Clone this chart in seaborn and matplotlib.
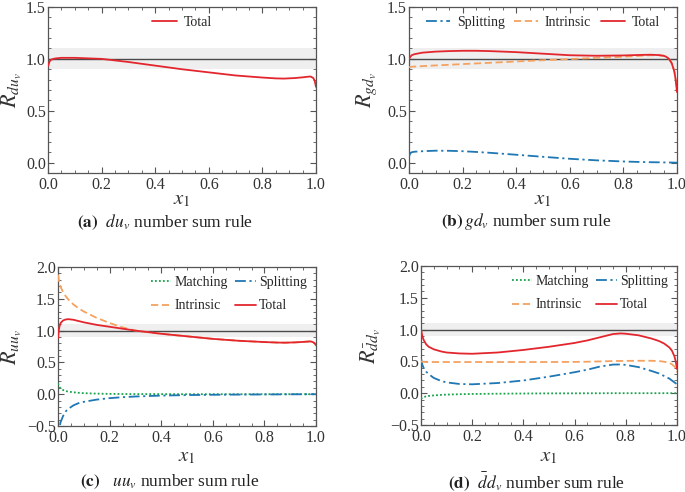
import numpy as np
import pandas as pd
import matplotlib
matplotlib.use("Agg")
import matplotlib.pyplot as plt
from matplotlib.ticker import MultipleLocator
import seaborn as sns

sns.set_theme(style="white")
plt.rcParams['font.family'] = ['Liberation Serif', 'DejaVu Serif']
plt.rcParams['mathtext.fontset'] = 'stix'

RED = "#e3262e"
ORANGE = "#f4a261"
BLUE = "#1f77b4"
GREEN = "#16a34a"

# ---------------- panel (a): du_v ----------------
a_x = [0.0, 0.005, 0.01, 0.02, 0.03, 0.05, 0.1, 0.15, 0.2, 0.3, 0.4, 0.5, 0.6, 0.7, 0.8, 0.85, 0.88, 0.92, 0.95, 0.97, 0.98, 0.99, 0.995, 1.0]
a_total = [0.93, 0.97, 0.99, 1.0, 1.005, 1.01, 1.01, 1.005, 1.0, 0.97, 0.935, 0.9, 0.87, 0.84, 0.82, 0.812, 0.81, 0.815, 0.822, 0.828, 0.83, 0.815, 0.79, 0.73]

# ---------------- panel (b): gd_v ----------------
b_x = [0.0, 0.005, 0.01, 0.02, 0.05, 0.1, 0.15, 0.2, 0.25, 0.3, 0.4, 0.5, 0.6, 0.7, 0.8, 0.85, 0.9, 0.93, 0.95, 0.96, 0.97, 0.98, 0.99, 0.995, 1.0]
b_total = [1.0, 1.02, 1.035, 1.045, 1.06, 1.07, 1.075, 1.078, 1.078, 1.075, 1.065, 1.05, 1.035, 1.03, 1.033, 1.037, 1.04, 1.037, 1.03, 1.02, 1.0, 0.96, 0.88, 0.8, 0.68]
b_intrinsic = [0.92, 0.922, 0.924, 0.926, 0.93, 0.937, 0.943, 0.95, 0.956, 0.962, 0.975, 0.987, 0.998, 1.01, 1.02, 1.028, 1.035, 1.035, 1.03, 1.02, 1.0, 0.96, 0.88, 0.8, 0.68]
b_splitting = [0.06, 0.09, 0.1, 0.105, 0.11, 0.115, 0.114, 0.11, 0.103, 0.095, 0.076, 0.056, 0.037, 0.022, 0.011, 0.007, 0.004, 0.003, 0.002, 0.002, 0.001, 0.001, 0.0, 0.0, 0.0]

# ---------------- panel (c): uu_v ----------------
c_x = [0.0, 0.003, 0.006, 0.01, 0.02, 0.03, 0.04, 0.06, 0.08, 0.1, 0.15, 0.2, 0.25, 0.3, 0.4, 0.5, 0.6, 0.7, 0.8, 0.85, 0.88, 0.92, 0.95, 0.97, 0.98, 0.99, 0.995, 1.0]
c_total = [0.88, 1.0, 1.07, 1.12, 1.16, 1.175, 1.18, 1.17, 1.15, 1.13, 1.09, 1.06, 1.03, 1.0, 0.95, 0.91, 0.87, 0.84, 0.82, 0.812, 0.81, 0.815, 0.822, 0.828, 0.83, 0.815, 0.8, 0.77]
c_intrinsic = [1.88, 1.8, 1.74, 1.69, 1.6, 1.54, 1.49, 1.41, 1.35, 1.3, 1.2, 1.12, 1.05, 1.0, 0.95, 0.91, 0.87, 0.84, 0.82, 0.812, 0.81, 0.815, 0.822, 0.828, 0.83, 0.815, 0.8, 0.77]
c_matching = [0.17, 0.13, 0.11, 0.09, 0.065, 0.05, 0.04, 0.03, 0.022, 0.016, 0.009, 0.005, 0.003, 0.002, 0.001, 0.0, 0.0, 0.0, 0.0, 0.0, 0.0, 0.0, 0.0, 0.0, 0.0, 0.0, 0.0, 0.0]
c_splitting = [-0.8, -0.62, -0.52, -0.44, -0.34, -0.27, -0.23, -0.175, -0.14, -0.12, -0.085, -0.062, -0.047, -0.036, -0.022, -0.014, -0.009, -0.006, -0.004, -0.003, -0.002, -0.001, -0.001, 0.0, 0.0, 0.0, 0.0, 0.0]

# ---------------- panel (d): dbar d_v ----------------
d_x = [0.0, 0.005, 0.01, 0.02, 0.03, 0.05, 0.08, 0.1, 0.15, 0.2, 0.3, 0.4, 0.5, 0.6, 0.65, 0.7, 0.75, 0.78, 0.8, 0.85, 0.9, 0.93, 0.95, 0.97, 0.98, 0.99, 0.995, 1.0]
d_total = [1.0, 0.9, 0.84, 0.77, 0.73, 0.69, 0.655, 0.64, 0.625, 0.62, 0.64, 0.68, 0.73, 0.79, 0.83, 0.88, 0.93, 0.94, 0.935, 0.91, 0.86, 0.82, 0.78, 0.72, 0.67, 0.58, 0.5, 0.38]
d_intrinsic = [0.5, 0.495, 0.493, 0.49, 0.49, 0.49, 0.49, 0.49, 0.49, 0.49, 0.49, 0.49, 0.49, 0.492, 0.495, 0.5, 0.505, 0.507, 0.508, 0.51, 0.51, 0.505, 0.495, 0.475, 0.455, 0.42, 0.39, 0.33]
d_splitting = [0.55, 0.45, 0.4, 0.34, 0.3, 0.24, 0.19, 0.17, 0.145, 0.14, 0.16, 0.2, 0.26, 0.33, 0.37, 0.42, 0.45, 0.452, 0.445, 0.41, 0.35, 0.31, 0.27, 0.23, 0.2, 0.17, 0.155, 0.14]
d_matching = [-0.09, -0.07, -0.06, -0.05, -0.043, -0.035, -0.026, -0.022, -0.016, -0.012, -0.008, -0.005, -0.003, -0.002, -0.001, -0.001, 0.0, 0.0, 0.0, 0.0, 0.0, 0.0, 0.0, 0.0, 0.0, 0.0, 0.0, 0.0]

STYLE = {
    "Matching": dict(color=GREEN, ls=(0, (1, 1.2)), lw=1.3),
    "Splitting": dict(color=BLUE, ls=(0, (6, 2, 1.2, 2)), lw=1.3),
    "Intrinsic": dict(color=ORANGE, ls=(0, (4, 2)), lw=1.3),
    "Total": dict(color=RED, ls="-", lw=1.3),
}

fig = plt.figure(figsize=(6.85, 4.92), dpi=100)

W, H = 685.0, 492.0
def rect(l, r, t, b):
    return [l / W, 1 - b / H, (r - l) / W, (b - t) / H]

panels = [
    dict(rect=rect(48, 316, 7, 173), x=a_x, series=[("Total", a_total)], ylim=(-0.1, 1.5),
         ylabel=r"$R_{du_v}$", ylx=12, ncol=1, loc="upper center", order=["Total"],
         leg=dict(handlelength=1.8, handletextpad=0.5, columnspacing=0.7),
         cap=(165, 222, r"$\mathbf{(a)}$  $du_v$ number sum rule"), xl=200),
    dict(rect=rect(409, 677, 7, 173), x=b_x,
         series=[("Splitting", b_splitting), ("Intrinsic", b_intrinsic), ("Total", b_total)], ylim=(-0.1, 1.5),
         ylabel=r"$R_{gd_v}$", ylx=367, ncol=3, loc="upper center", order=["Splitting", "Intrinsic", "Total"],
         leg=dict(handlelength=1.7, handletextpad=0.5, columnspacing=0.7),
         cap=(526, 222, r"$\mathbf{(b)}$$\,gd_v$ number sum rule"), xl=200),
    dict(rect=rect(58, 316, 267, 426), x=c_x,
         series=[("Matching", c_matching), ("Splitting", c_splitting), ("Intrinsic", c_intrinsic), ("Total", c_total)],
         ylim=(-0.5, 2.0), ylabel=r"$R_{uu_v}$", ylx=12, ncol=2, loc="upper right",
         order=["Matching", "Intrinsic", "Splitting", "Total"],
         leg=dict(handlelength=1.45, handletextpad=0.25, columnspacing=0.55),
         cap=(170, 482, r"$\mathbf{(c)}$   $uu_v$ number sum rule"), xl=457),
    dict(rect=rect(421, 677, 266, 425), x=d_x,
         series=[("Matching", d_matching), ("Splitting", d_splitting), ("Intrinsic", d_intrinsic), ("Total", d_total)],
         ylim=(-0.5, 2.0), ylabel=r"$R_{\bar{d}d_v}$", ylx=371, ncol=2, loc="upper right",
         order=["Matching", "Intrinsic", "Splitting", "Total"],
         leg=dict(handlelength=1.45, handletextpad=0.25, columnspacing=0.55),
         cap=(537, 482, r"$\mathbf{(d)}$  $\bar{d}d_v$ number sum rule"), xl=457),
]

for p in panels:
    ax = fig.add_axes(p["rect"])
    ax.axhspan(0.9, 1.1, color="#efefef", lw=0, zorder=0)
    ax.axhline(1.0, color="#4a4a4a", lw=1.0, zorder=1)
    for name, vals in p["series"]:
        df = pd.DataFrame({"x": p["x"], "y": vals})
        st = STYLE[name]
        sns.lineplot(data=df, x="x", y="y", ax=ax, color=st["color"], linestyle=st["ls"],
                     lw=st["lw"], label=name, zorder=3)
    hl, ll = ax.get_legend_handles_labels()
    hmap = dict(zip(ll, hl))
    ax.legend([hmap[k] for k in p["order"]], p["order"], ncol=p["ncol"], loc=p["loc"],
              frameon=False, fontsize=10, borderaxespad=0.25, labelspacing=0.75, **p["leg"])
    ax.set_xlim(0, 1)
    ax.set_ylim(*p["ylim"])
    ax.xaxis.set_major_locator(MultipleLocator(0.2))
    ax.xaxis.set_minor_locator(MultipleLocator(0.05))
    ax.yaxis.set_major_locator(MultipleLocator(0.5))
    ax.yaxis.set_minor_locator(MultipleLocator(0.1))
    ax.xaxis.set_major_formatter(matplotlib.ticker.FormatStrFormatter("%.1f"))
    ax.yaxis.set_major_formatter(matplotlib.ticker.FuncFormatter(
        lambda v, pos: ("\u2212%.1f" % abs(v)) if v < -1e-9 else "%.1f" % abs(v)))
    ax.tick_params(which="both", direction="in", top=True, right=True, color="#555555",
                   labelsize=11.5, labelcolor="#333333", bottom=True, left=True)
    ax.tick_params(axis="y", which="major", pad=1.5)
    ax.tick_params(axis="x", which="major", pad=3)
    ax.tick_params(which="major", length=4, width=0.8)
    ax.tick_params(which="minor", length=2.2, width=0.6)
    for s in ax.spines.values():
        s.set_color("#555555")
        s.set_linewidth(0.9)
    ax.set_xlabel("")
    ax.set_ylabel("")
    l, b, w, h = p["rect"]
    fig.text(p["ylx"] / W, b + h / 2, p["ylabel"], rotation=90, ha="center", va="center",
             fontsize=16, color="#333333")
    fig.text(l + w / 2, 1 - p["xl"] / H, r"$x_1$", ha="center", va="center", fontsize=15, color="#333333")
    cx, cy, ct = p["cap"]
    fig.text(cx / W, 1 - cy / H, ct, ha="center", va="center", fontsize=12.5, color="#222222")

fig.savefig("out.png", dpi=100)
